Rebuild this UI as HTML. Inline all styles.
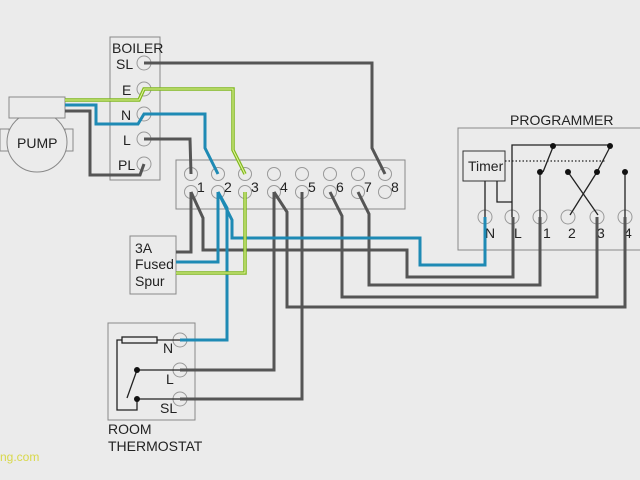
<!DOCTYPE html>
<html><head><style>
html,body{margin:0;padding:0;background:#ebebeb;}
svg{display:block;}
text{font-family:"Liberation Sans",sans-serif;fill:#222;}
</style></head><body>
<svg width="640" height="480" viewBox="0 0 640 480">
<rect width="640" height="480" fill="#ebebeb"/>
<g fill="none" stroke="#888" stroke-width="1">
<rect x="110" y="37" width="50" height="143"/>
<rect x="176" y="160" width="229" height="49"/>
<rect x="130" y="236" width="46" height="58"/>
<rect x="108" y="323" width="87" height="97"/>
<rect x="458" y="128" width="190" height="122"/>
<rect x="9" y="97" width="56" height="21" fill="#ebebeb"/>
<rect x="0" y="129" width="9" height="22"/>
<rect x="65" y="129" width="8" height="22"/>
</g>
<circle cx="37" cy="142" r="30" fill="#ebebeb" stroke="#888"/>
<rect x="9" y="97" width="56" height="21" fill="#ebebeb" stroke="#888"/>
<text x="17" y="148" font-size="14">PUMP</text>
<!-- boiler terminals -->
<g fill="#ebebeb" stroke="#999" stroke-width="1">
<circle cx="144" cy="63" r="7"/><circle cx="144" cy="89" r="7"/><circle cx="144" cy="114" r="7"/><circle cx="144" cy="139" r="7"/><circle cx="144" cy="164" r="7"/>
</g>
<g font-size="14">
<text x="112" y="53">BOILER</text>
<text x="116" y="69">SL</text><text x="122" y="95">E</text><text x="121" y="120">N</text><text x="123" y="145">L</text><text x="118" y="170">PL</text>
<text x="510" y="125">PROGRAMMER</text>
<text x="135" y="253">3A</text><text x="135" y="269">Fused</text><text x="135" y="286">Spur</text>
<text x="108" y="434">ROOM</text><text x="108" y="451">THERMOSTAT</text>
</g>
<!-- strip terminals -->
<g fill="#ebebeb" stroke="#999">
<circle cx="191" cy="174" r="6.5"/><circle cx="191" cy="192" r="6.5"/>
<circle cx="218" cy="174" r="6.5"/><circle cx="218" cy="192" r="6.5"/>
<circle cx="245" cy="174" r="6.5"/><circle cx="245" cy="192" r="6.5"/>
<circle cx="274" cy="174" r="6.5"/><circle cx="274" cy="192" r="6.5"/>
<circle cx="302" cy="174" r="6.5"/><circle cx="302" cy="192" r="6.5"/>
<circle cx="330" cy="174" r="6.5"/><circle cx="330" cy="192" r="6.5"/>
<circle cx="358" cy="174" r="6.5"/><circle cx="358" cy="192" r="6.5"/>
<circle cx="385" cy="174" r="6.5"/><circle cx="385" cy="192" r="6.5"/>
<circle cx="485" cy="217" r="7"/><circle cx="512" cy="217" r="7"/><circle cx="540" cy="217" r="7"/><circle cx="568" cy="217" r="7"/><circle cx="597" cy="217" r="7"/><circle cx="625" cy="217" r="7"/>
<circle cx="180" cy="340" r="7"/><circle cx="180" cy="370" r="7"/><circle cx="180" cy="399" r="7"/>
</g>
<g font-size="14">
<text x="197" y="192">1</text><text x="224" y="192">2</text><text x="251" y="192">3</text><text x="280" y="192">4</text><text x="308" y="192">5</text><text x="336" y="192">6</text><text x="364" y="192">7</text><text x="391" y="192">8</text>
<text x="485" y="238">N</text><text x="514" y="238">L</text><text x="543" y="238">1</text><text x="568" y="238">2</text><text x="597" y="238">3</text><text x="624" y="238">4</text>
<text x="163" y="353">N</text><text x="166" y="384">L</text><text x="160" y="413">SL</text>
<text x="468" y="171">Timer</text>
</g>
<rect x="463" y="151" width="42" height="30" fill="none" stroke="#333"/>
<!-- gray wires -->
<g fill="none" stroke="#555" stroke-width="3" stroke-linejoin="miter">
<polyline points="144,63 372,63 372,148 385,174"/>
<polyline points="144,139 190,139 191,174"/>
<polyline points="65,111 90,111 90,175 140,175 144,164"/>
<polyline points="176,252 191,252 191,192"/>
<polyline points="191,192 203,218 203,250 407,250 407,277 513,277 513,217"/>
<polyline points="274,192 274,370 180,370"/>
<polyline points="274,192 287,212 287,307 625,307 625,217"/>
<polyline points="302,192 302,399 180,399"/>
<polyline points="330,192 342,216 342,297 597,297 597,217"/>
<polyline points="358,192 369,214 369,285 540,285 540,217"/>
</g>
<!-- blue wires -->
<g fill="none" stroke="#1e8ab4" stroke-width="3">
<polyline points="65,105 96,105 96,124 138,124 144,114 205,114 205,148 218,174"/>
<polyline points="176,262 218,262 218,192"/>
<polyline points="218,192 227,208 227,340 180,340"/>
<polyline points="218,192 232,220 232,238 420,238 420,265 485,265 485,217"/>
</g>
<!-- green wires -->
<g fill="none" stroke="#7fb81f" stroke-width="3.5">
<polyline points="65,100 139,100 144,89 233,89 233,150 245,174"/>
<polyline points="176,273 245,273 245,192"/>
</g>
<g fill="none" stroke="#e6f5a0" stroke-width="1">
<polyline points="65,100 139,100 144,89 233,89 233,150 245,174"/>
<polyline points="176,273 245,273 245,192"/>
</g>
<!-- programmer internal -->
<g fill="none" stroke="#222" stroke-width="1.3">
<polyline points="512,217 512,145 610,145"/>
<line x1="553" y1="147" x2="543" y2="172"/>
<line x1="610" y1="147" x2="597" y2="172"/>
<line x1="568" y1="172" x2="598" y2="215"/>
<line x1="597" y1="172" x2="570" y2="215"/>
<line x1="485" y1="181" x2="485" y2="217"/>
<polyline points="497,181 497,202 512,202"/>
<line x1="540" y1="172" x2="540" y2="217"/>
<line x1="625" y1="172" x2="625" y2="217"/>
<line x1="505" y1="161" x2="605" y2="161" stroke-dasharray="1.5,2"/>
<!-- thermostat -->
<rect x="122" y="337" width="35" height="6"/>
<line x1="157" y1="340" x2="180" y2="340"/>
<polyline points="122,340 117,340 117,410 137,410 137,399"/>
<line x1="137" y1="370" x2="180" y2="370"/>
<line x1="137" y1="399" x2="180" y2="399"/>
<line x1="137" y1="370" x2="127" y2="398"/>
</g>
<g fill="#111">
<circle cx="553" cy="146" r="3"/><circle cx="610" cy="146" r="3"/>
<circle cx="540" cy="172" r="3"/><circle cx="568" cy="172" r="3"/><circle cx="597" cy="172" r="3"/><circle cx="625" cy="172" r="3"/>
<circle cx="137" cy="370" r="3"/><circle cx="137" cy="399" r="3"/>
</g>
<text x="0" y="461" font-size="12" style="fill:#d8d84a">ng.com</text>
</svg>
</body></html>
